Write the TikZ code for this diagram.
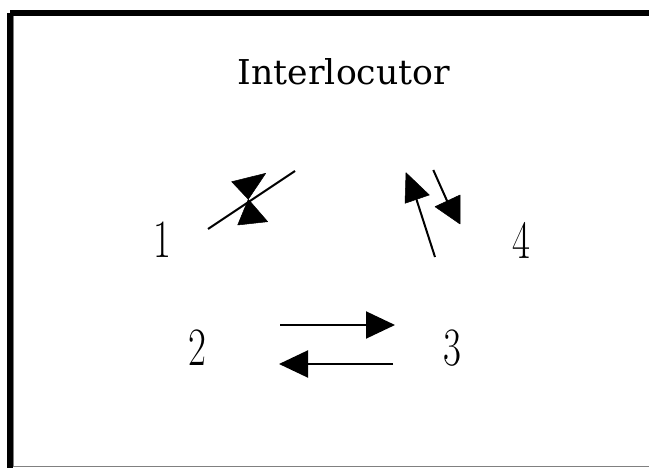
\documentclass[tikz,border=0pt]{standalone}
\usetikzlibrary{arrows.meta}
\usepackage{graphicx}
\usepackage{fontspec}
\newfontfamily\titlefont{DejaVu Serif}
\begin{document}
\begin{tikzpicture}[x=1pt,y=-1pt,
  framebar/.style={fill=black,draw=none},
  title/.style={inner sep=0pt,anchor=center},
  digit/.style={inner sep=0pt,anchor=center,font=\fontsize{54}{60}\selectfont},
  conn/.style={line width=2pt},
  harrow/.style={conn,-{Triangle[length=29pt,width=27pt]}},
  thinconn/.style={line width=2pt},
  headfill/.style={fill=black,draw=black,line width=0.5pt,line join=round}]
\useasboundingbox (0,0) rectangle (649,468);
\fill[white] (0,0) rectangle (649,468);
% frame (open on the right)
\fill[framebar] (7.3,13.3) rectangle (13,468);
\fill[framebar] (10,10.3) rectangle (649,16);
\draw[gray,line width=1pt] (13.5,16) -- (13.5,466);
\draw[gray,line width=1.5pt] (13,466.5) -- (649,466.5);
% texts
\node[title] (inter) at (344,72) {\resizebox{212pt}{26pt}{\titlefont Interlocutor}};
\node[digit] (n1) at (162,240) {\scalebox{0.72}[1]{1}};
\node[digit] (n4) at (521,240) {\scalebox{0.72}[1]{4}};
\node[digit] (n2) at (197,348) {\scalebox{0.72}[1]{2}};
\node[digit] (n3) at (452,348) {\scalebox{0.72}[1]{3}};
% arrows between 2 and 3
\coordinate (r0) at (280,325);
\coordinate (r1) at (395,325);
\coordinate (l0) at (393,364);
\coordinate (l1) at (279,364);
\draw[harrow] (r0) -- (r1);
\draw[harrow] (l0) -- (l1);
% arrows between 1 and Interlocutor
\coordinate (d0) at (208,229);
\coordinate (d1) at (295,171);
\draw[thinconn] (d0) -- (d1);
\fill[headfill] (231.7,181.7) -- (265.7,173.3) -- (248.3,199.3) -- cycle;
\fill[headfill] (237.7,225) -- (267.7,221.7) -- (248.3,199.3) -- cycle;
% arrows between 4 and Interlocutor
\coordinate (u0) at (435,257);
\coordinate (u1) at (416,198);
\draw[thinconn] (u0) -- (u1);
\fill[headfill] (406,172.7) -- (429.3,195) -- (405,203.3) -- cycle;
\coordinate (v0) at (433.3,170);
\coordinate (v1) at (448,203);
\draw[thinconn] (v0) -- (v1);
\fill[headfill] (435,206.7) -- (460,195) -- (460,224) -- cycle;
\end{tikzpicture}
\end{document}
